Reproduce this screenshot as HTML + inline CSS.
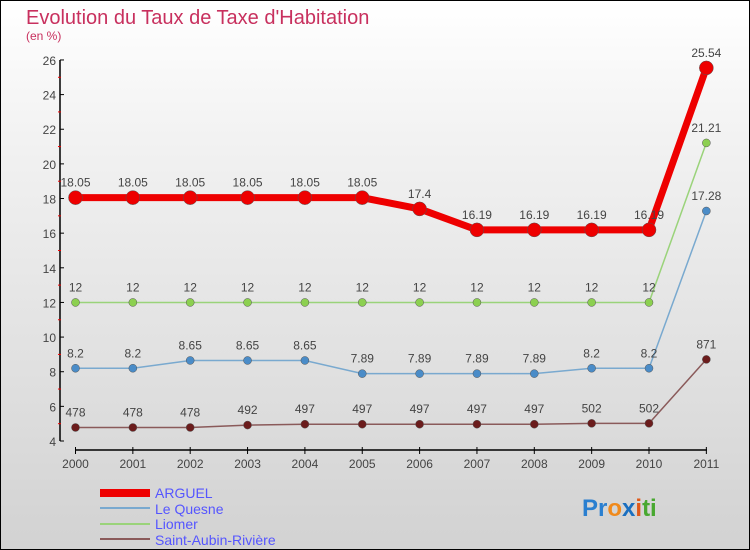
<!DOCTYPE html>
<html><head><meta charset="utf-8"><style>
body{margin:0}
#c{width:750px;height:550px;position:relative;box-sizing:border-box;border:1px solid #000;background:linear-gradient(#fff,#f2f2f2 25%,#d2d2d2);font-family:"Liberation Sans",sans-serif;overflow:hidden}
</style></head><body>
<div id="c">
<svg id="s" width="750" height="550" style="position:absolute;left:-1px;top:-1px">
<text x="26" y="24" font-size="20" fill="#c8305e">Evolution du Taux de Taxe d'Habitation</text>
<text x="26" y="40" font-size="12" fill="#c8305e">(en %)</text>
<g id="axes"></g><g id="series"></g>
<g>
<rect x="100" y="489" width="50" height="8" fill="#e00"/>
<text x="155" y="498" font-size="14" fill="#55f">ARGUEL</text>
<line x1="100" y1="508" x2="150" y2="508" stroke="#79a9cf" stroke-width="2"/>
<text x="155" y="514" font-size="14" fill="#55f">Le Quesne</text>
<line x1="100" y1="524" x2="150" y2="524" stroke="#9ad37a" stroke-width="2"/>
<text x="155" y="529" font-size="14" fill="#55f">Liomer</text>
<line x1="100" y1="539" x2="150" y2="539" stroke="#8a5a5a" stroke-width="2"/>
<text x="155" y="545" font-size="14" fill="#55f">Saint-Aubin-Rivière</text>
</g>
<text x="582" y="516" font-size="24" font-weight="bold"><tspan fill="#2a7fd0">Pr</tspan><tspan fill="#f08a1c">o</tspan><tspan fill="#1a6fc0">x</tspan><tspan fill="#e05a1a">i</tspan><tspan fill="#48a830">ti</tspan></text>
</svg></div>
<script>
const years=["2000","2001","2002","2003","2004","2005","2006","2007","2008","2009","2010","2011"];
const yTicks=[4,6,8,10,12,14,16,18,20,22,24,26];
const arguel=[18.05,18.05,18.05,18.05,18.05,18.05,17.4,16.19,16.19,16.19,16.19,25.54];
const leQuesne=[8.2,8.2,8.65,8.65,8.65,7.89,7.89,7.89,7.89,8.2,8.2,17.28];
const liomer=[12,12,12,12,12,12,12,12,12,12,12,21.21];
const saintAubin=[4.78,4.78,4.78,4.92,4.97,4.97,4.97,4.97,4.97,5.02,5.02,8.71];
const arguelLabels=["18.05","18.05","18.05","18.05","18.05","18.05","17.4","16.19","16.19","16.19","16.19","25.54"];
const leQuesneLabels=["8.2","8.2","8.65","8.65","8.65","7.89","7.89","7.89","7.89","8.2","8.2","17.28"];
const liomerLabels=["12","12","12","12","12","12","12","12","12","12","12","21.21"];
const saintAubinLabels=["478","478","478","492","497","497","497","497","497","502","502","871"];
const NS="http://www.w3.org/2000/svg";
const X=i=>75.5+i*57.35, Y=v=>441-(v-4)*17.32;
function mk(t,a,p){const e=document.createElementNS(NS,t);for(const k in a)e.setAttribute(k,a[k]);p.appendChild(e);return e;}
const ax=document.getElementById('axes'),sr=document.getElementById('series');
let l=mk('line',{x1:60,y1:Y(26),x2:60,y2:Y(4),stroke:'#000','stroke-width':1.5},ax);


l=mk('line',{x1:75,y1:450,x2:707,y2:450,stroke:'#000','stroke-width':1.5},ax);


yTicks.forEach(v=>{
 mk('line',{x1:60,y1:Y(v),x2:64,y2:Y(v),stroke:'#000'},ax);
 mk('line',{x1:58,y1:Y(v+1),x2:61,y2:Y(v+1),stroke:v<26?'#e00':'none'},ax);
 const t=mk('text',{x:56,y:Y(v)+5,'font-size':12,fill:'#444','text-anchor':'end'},ax);t.textContent=v;
 
 
});
years.forEach((y,i)=>{
 mk('line',{x1:X(i),y1:447,x2:X(i),y2:454,stroke:'#000'},ax);
 const t=mk('text',{x:X(i),y:468,'font-size':12,fill:'#444','text-anchor':'middle'},ax);t.textContent=y;
 
 
});
function series(vals,labs,col,dot,w,r,name){
 const g=mk('g',{},sr);
 
 
 mk('polyline',{points:vals.map((v,i)=>X(i)+','+Y(v)).join(' '),fill:'none',stroke:col,'stroke-width':w},g);
 vals.forEach((v,i)=>{
  const c=mk('circle',{cx:X(i),cy:Y(v),r:r,fill:dot,stroke:'#555','stroke-width':0.5},g);
  
  
  const t=mk('text',{x:X(i),y:Y(v)-11,'font-size':12,fill:'#444','text-anchor':'middle'},g);t.textContent=labs[i];
  
  
 });
}
series(saintAubin,saintAubinLabels,'#8a5a5a','#6b1c1c',1.5,4,'series-saint-aubin-riviere');
series(leQuesne,leQuesneLabels,'#79a9cf','#4a8cc8',1.5,4,'series-le-quesne');
series(liomer,liomerLabels,'#9ad37a','#8cd050',1.5,4,'series-liomer');
series(arguel,arguelLabels,'#e00','#e00',7,7,'series-arguel');
</script>
</body></html>
